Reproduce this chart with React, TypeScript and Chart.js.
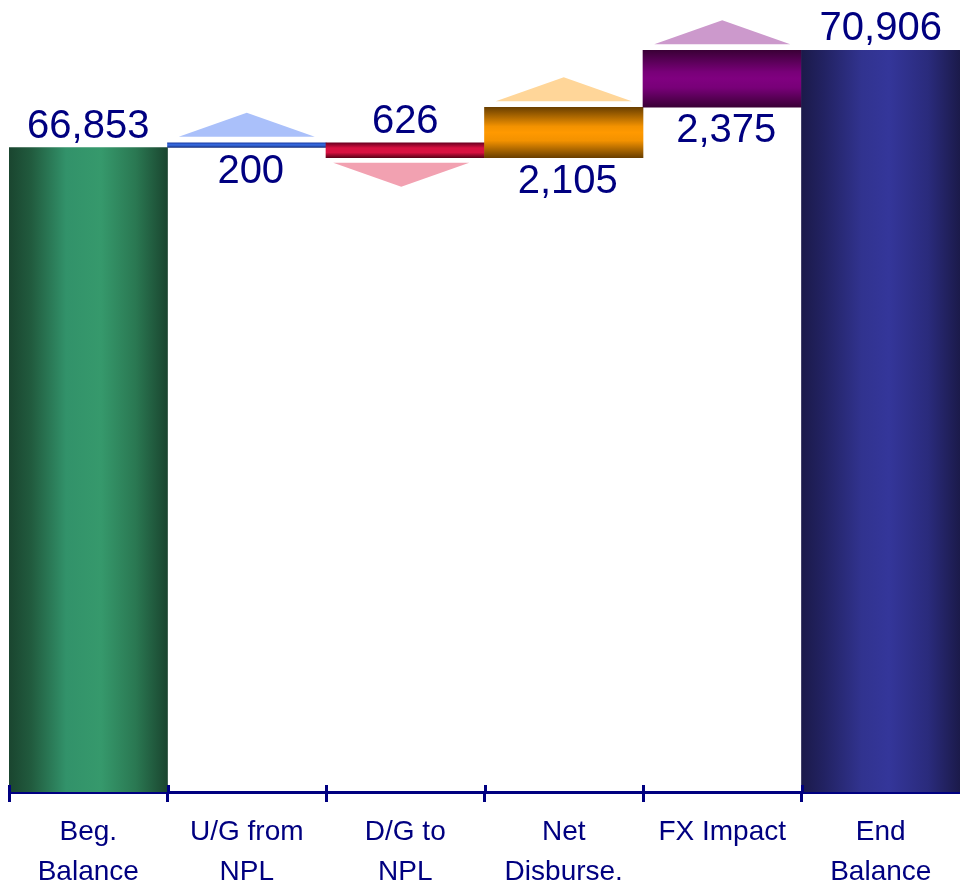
import { useEffect, useRef } from "react";
import { Chart, registerables } from "chart.js";

Chart.register(...registerables);

// ---- data ----
const categories: string[][] = [
  ["Beg.", "Balance"],
  ["U/G from", "NPL"],
  ["D/G to", "NPL"],
  ["Net", "Disburse."],
  ["FX Impact"],
  ["End", "Balance"],
];
const openingBalance = 66853;
const movements = [200, -626, 2105, 2375];
const closingBalance = 70906;
const axisFloor = 40000;
const axisCeiling = 73000;

// ---- styles ----
const FONT = "'Liberation Sans', Arial, Helvetica, sans-serif";
const NAVY = "#000080";

// gradient stops for each bar (totals shade left→right, movements top→bottom)
const barShades: [number, string][][] = [
  [[0, "#1a452f"], [0.14, "#215b3e"], [0.36, "#32926a"], [0.58, "#36996c"], [0.8, "#2a7852"], [1, "#1a452f"]],
  [[0, "#1c3fa8"], [0.45, "#3a6fe6"], [1, "#16307e"]],
  [[0, "#6c0020"], [0.35, "#d81040"], [0.65, "#d81040"], [1, "#5e0018"]],
  [[0, "#6a3f00"], [0.38, "#f39200"], [0.5, "#ff9900"], [0.66, "#f39200"], [1, "#6a3f00"]],
  [[0, "#3a0036"], [0.38, "#780078"], [0.5, "#800080"], [0.66, "#780078"], [1, "#3a0036"]],
  [[0, "#1b1a4a"], [0.14, "#222262"], [0.38, "#31338f"], [0.55, "#34369a"], [0.8, "#2a2b7c"], [1, "#1b1a4a"]],
];
const flatColors = ["#2e8a5f", "#3366dd", "#c8103a", "#ff9900", "#800080", "#2e3090"];
const arrowColors = ["", "#aac0fa", "#f2a1b1", "#ffd699", "#cc99cc", ""];

// floating ranges for the waterfall
const ranges: [number, number][] = [[axisFloor, openingBalance]];
let level = openingBalance;
for (const m of movements) {
  ranges.push([level, level + m]);
  level += m;
}
ranges.push([axisFloor, closingBalance]);
const labelValues = [openingBalance, ...movements.map((m) => Math.abs(m)), closingBalance];

const lastIndex = categories.length - 1;
const isTotal = (i: number) => i === 0 || i === lastIndex;

const waterfallDecor = {
  id: "waterfallDecor",
  afterDatasetsDraw(chart: any) {
    const ctx: CanvasRenderingContext2D = chart.ctx;
    const meta = chart.getDatasetMeta(0);
    ctx.save();
    meta.data.forEach((el: any, i: number) => {
      const { x, y, base } = el.getProps(["x", "y", "base"], true);
      const top = Math.min(y, base);
      const bottom = Math.max(y, base);
      const up = !isTotal(i) && movements[i - 1] > 0;
      const down = !isTotal(i) && movements[i - 1] < 0;
      // direction arrow
      if (up || down) {
        const halfW = 68;
        ctx.fillStyle = arrowColors[i];
        ctx.beginPath();
        if (up) {
          ctx.moveTo(x - halfW, top - 6);
          ctx.lineTo(x + halfW, top - 6);
          ctx.lineTo(x, top - 30);
        } else {
          ctx.moveTo(x - halfW - 4, bottom + 5);
          ctx.lineTo(x + halfW - 4, bottom + 5);
          ctx.lineTo(x - 4, bottom + 29);
        }
        ctx.closePath();
        ctx.fill();
      }
      // value label
      ctx.fillStyle = NAVY;
      ctx.font = `40px ${FONT}`;
      ctx.textAlign = "center";
      ctx.textBaseline = "alphabetic";
      const text = labelValues[i].toLocaleString("en-US");
      if (up) ctx.fillText(text, x + 4, bottom + 35);
      else ctx.fillText(text, x, top - 10);
    });
    ctx.restore();
  },
  afterDraw(chart: any) {
    // upper half of the category separator ticks
    const ctx: CanvasRenderingContext2D = chart.ctx;
    const xs = chart.scales.x;
    const step = xs.width / categories.length;
    ctx.save();
    ctx.strokeStyle = NAVY;
    ctx.lineWidth = 3;
    for (let k = 0; k < categories.length; k++) {
      const px = Math.round(xs.left + k * step) + 0.5;
      ctx.beginPath();
      ctx.moveTo(px, chart.chartArea.bottom - 7);
      ctx.lineTo(px, chart.chartArea.bottom);
      ctx.stroke();
    }
    ctx.restore();
  },
};

export default function App() {
  const canvasRef = useRef<HTMLCanvasElement | null>(null);

  useEffect(() => {
    document.body.style.margin = "0";
    const canvas = canvasRef.current;
    if (!canvas) return;

    const chart = new Chart(canvas, {
      type: "bar",
      data: {
        labels: categories,
        datasets: [
          {
            data: ranges as any,
            barPercentage: 1,
            categoryPercentage: 1,
            borderWidth: 0,
            borderSkipped: false,
            backgroundColor: (c: any) => {
              const i = c.dataIndex;
              const ch = c.chart;
              const xs = ch.scales?.x;
              const ys = ch.scales?.y;
              if (i === undefined || !xs || !ys || !ch.chartArea) return flatColors[i ?? 0];
              const g: CanvasRenderingContext2D = ch.ctx;
              let grad: CanvasGradient;
              if (isTotal(i)) {
                const cx = xs.getPixelForValue(i);
                const half = xs.width / categories.length / 2;
                grad = g.createLinearGradient(cx - half, 0, cx + half, 0);
              } else {
                const [a, b] = ranges[i];
                grad = g.createLinearGradient(
                  0,
                  ys.getPixelForValue(Math.max(a, b)),
                  0,
                  ys.getPixelForValue(Math.min(a, b))
                );
              }
              barShades[i].forEach(([o, col]) => grad.addColorStop(o, col));
              return grad;
            },
          },
        ],
      },
      options: {
        responsive: false,
        animation: false,
        layout: { padding: { left: 9, right: 0, top: 0, bottom: 0 } },
        plugins: {
          legend: { display: false },
          tooltip: { enabled: false },
        },
        scales: {
          x: {
            offset: true,
            z: 1,
            grid: {
              offset: true,
              drawOnChartArea: false,
              drawTicks: true,
              tickLength: 10,
              tickWidth: 3,
              // no separator tick at the far right edge
              tickColor: (c: any) => (c.index === undefined ? "rgba(0,0,0,0)" : NAVY),
              color: NAVY,
            },
            border: { display: true, color: NAVY, width: 3 },
            ticks: {
              color: NAVY,
              font: { family: FONT, size: 28, lineHeight: 1.4 },
              padding: 11,
              maxRotation: 0,
              autoSkip: false,
            },
            afterFit: (s: any) => {
              s.height = 95;
            },
          },
          y: {
            display: false,
            min: axisFloor,
            max: axisCeiling,
          },
        },
      },
      plugins: [waterfallDecor],
    });

    return () => chart.destroy();
  }, []);

  return (
    <div style={{ width: 960, height: 887, background: "#ffffff" }}>
      <canvas ref={canvasRef} width={960} height={887} style={{ display: "block" }} />
    </div>
  );
}
